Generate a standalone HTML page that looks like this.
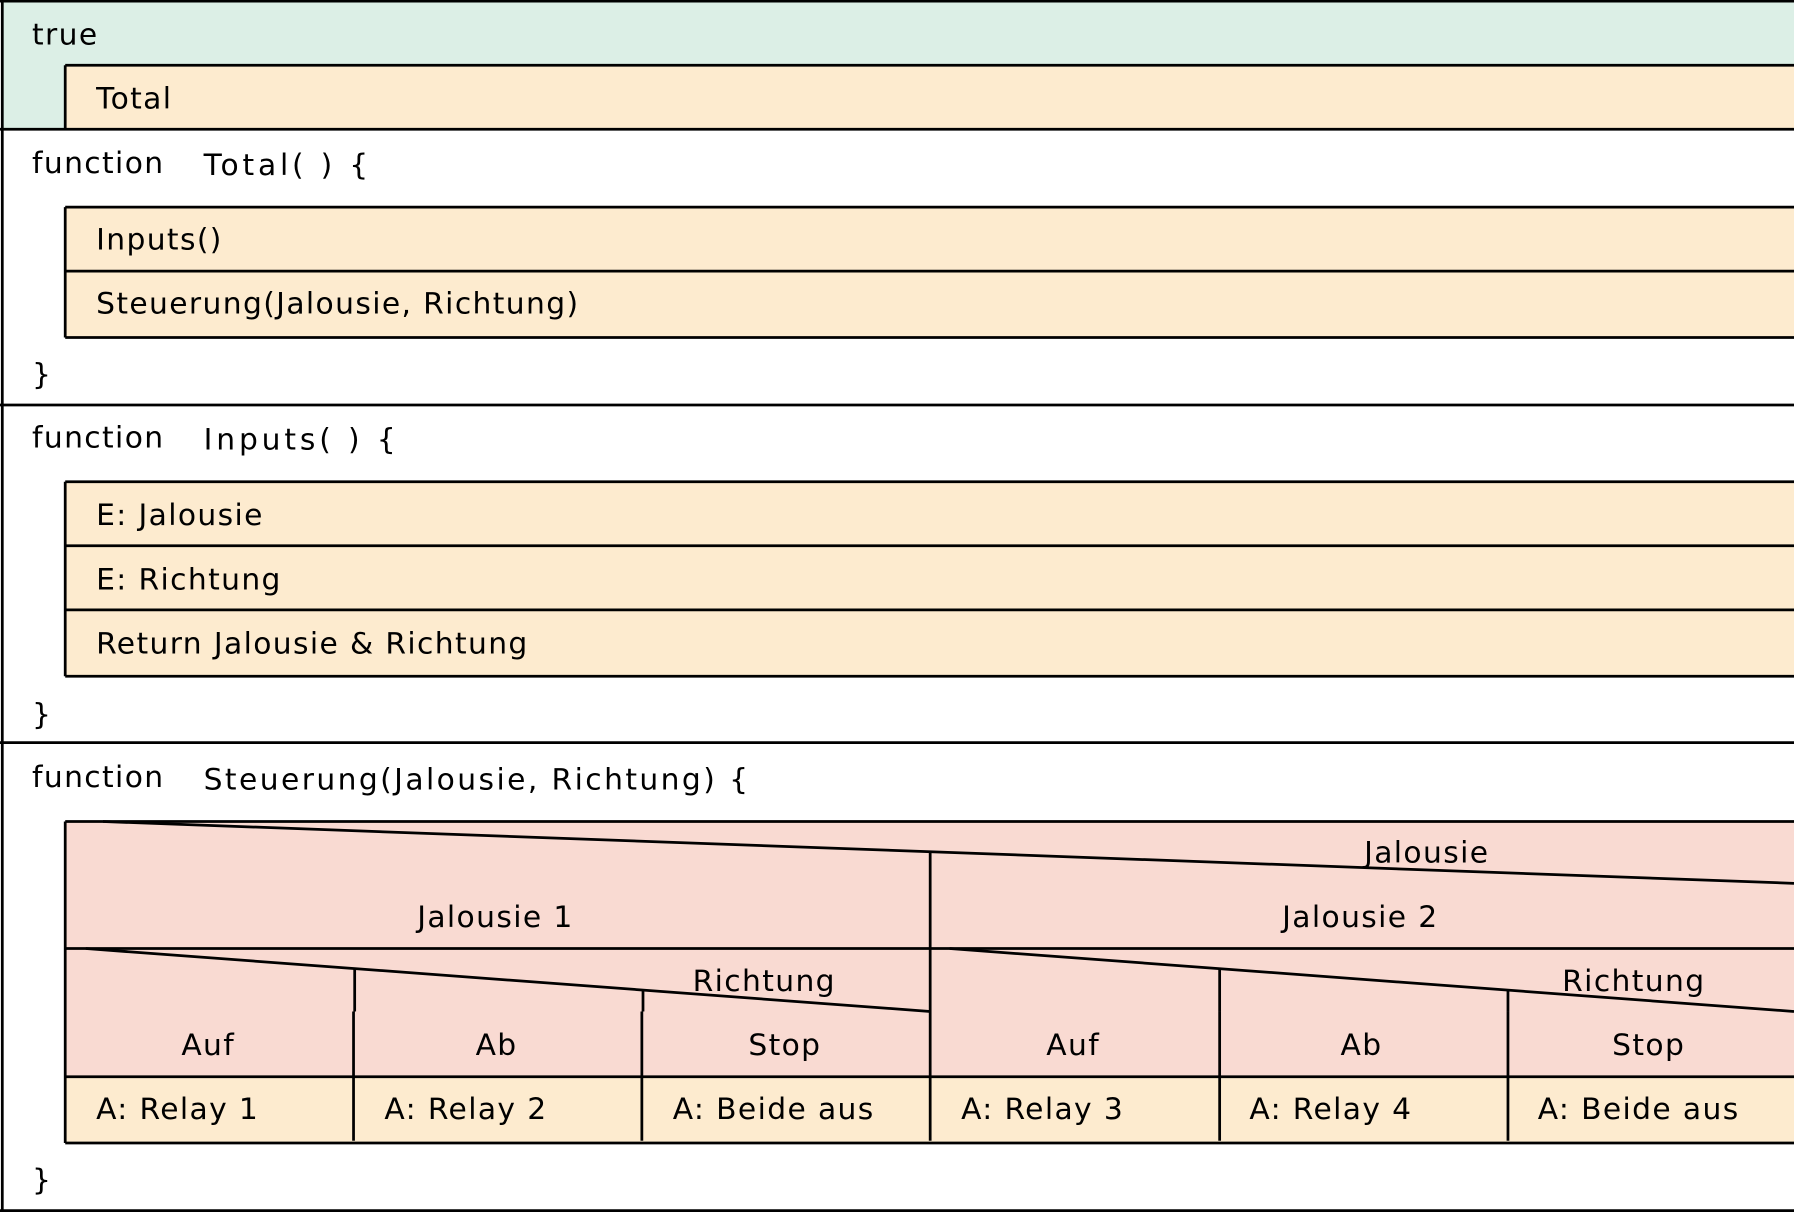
<!DOCTYPE html>
<html><head><meta charset="utf-8"><style>
html,body{margin:0;padding:0;background:#fff;overflow:hidden}
svg{display:block}
text{font-family:"DejaVu Sans","Liberation Sans",sans-serif;font-size:26px;fill:#000;letter-spacing:1.2px}
</style></head><body>
<svg width="1794" height="1214" viewBox="0 0 1568 1061" preserveAspectRatio="none" xmlns="http://www.w3.org/2000/svg">
<rect x="0" y="0" width="1568" height="1061" fill="#fff"/>
<rect x="2" y="1" width="1570" height="112" fill="#dcefe6"/>
<rect x="57" y="57" width="1515" height="55" fill="#fdebcf"/>
<rect x="57" y="181" width="1515" height="114" fill="#fdebcf"/>
<rect x="57" y="421" width="1515" height="170" fill="#fdebcf"/>
<rect x="57" y="718" width="1515" height="223" fill="#f9dad2"/>
<rect x="57" y="941" width="1515" height="57" fill="#fdebcf"/>

<g stroke="#000" stroke-width="2.4" fill="none">
<line x1="0" y1="1" x2="1568" y2="1"/>
<line x1="2" y1="0" x2="2" y2="1059"/>
<line x1="0" y1="1058" x2="1568" y2="1058"/>
<line x1="0" y1="113" x2="1568" y2="113"/>
<line x1="0" y1="354" x2="1568" y2="354"/>
<line x1="0" y1="649" x2="1568" y2="649"/>
<line x1="57" y1="57" x2="1568" y2="57"/>
<line x1="57" y1="57" x2="57" y2="113"/>
<line x1="57" y1="181" x2="1568" y2="181"/>
<line x1="57" y1="237" x2="1568" y2="237"/>
<line x1="57" y1="295" x2="1568" y2="295"/>
<line x1="57" y1="181" x2="57" y2="295"/>
<line x1="57" y1="421" x2="1568" y2="421"/>
<line x1="57" y1="477" x2="1568" y2="477"/>
<line x1="57" y1="533" x2="1568" y2="533"/>
<line x1="57" y1="591" x2="1568" y2="591"/>
<line x1="57" y1="421" x2="57" y2="591"/>
<line x1="57" y1="718" x2="1568" y2="718"/>
<line x1="57" y1="718" x2="57" y2="999"/>
<line x1="90" y1="718" x2="1568" y2="772"/>
<line x1="813" y1="745" x2="813" y2="997"/>
<line x1="57" y1="829" x2="1568" y2="829"/>
<line x1="75" y1="829" x2="813" y2="884"/>
<line x1="830" y1="829" x2="1568" y2="884"/>
<line x1="310" y1="847" x2="310" y2="884"/>
<line x1="562" y1="866" x2="562" y2="884"/>
<line x1="1066" y1="847" x2="1066" y2="884"/>
<line x1="1318" y1="866" x2="1318" y2="884"/>
<line x1="57" y1="941" x2="1568" y2="941"/>
<line x1="309" y1="884" x2="309" y2="997"/>
<line x1="561" y1="884" x2="561" y2="997"/>
<line x1="1066" y1="884" x2="1066" y2="997"/>
<line x1="1318" y1="884" x2="1318" y2="997"/>
<line x1="57" y1="999" x2="1568" y2="999"/>
</g>

<text x="28" y="39">true</text>
<text x="84" y="95">Total</text>
<text x="28" y="151">function</text>
<text x="178" y="153" textLength="145" lengthAdjust="spacing">Total( ) {</text>
<text x="84" y="218">Inputs()</text>
<text x="84" y="274">Steuerung(Jalousie, Richtung)</text>
<text x="28" y="336">}</text>
<text x="28" y="391">function</text>
<text x="178" y="393" textLength="169" lengthAdjust="spacing">Inputs( ) {</text>
<text x="84" y="459">E: Jalousie</text>
<text x="84" y="515">E: Richtung</text>
<text x="84" y="571">Return Jalousie &amp; Richtung</text>
<text x="28" y="633">}</text>
<text x="28" y="688">function</text>
<text x="178" y="690" textLength="477" lengthAdjust="spacing">Steuerung(Jalousie,  Richtung) {</text>
<g text-anchor="middle">
<text x="1247" y="754">Jalousie</text>
<text x="433" y="810">Jalousie 1</text>
<text x="1189" y="810">Jalousie 2</text>
<text x="668" y="866">Richtung</text>
<text x="1428" y="866">Richtung</text>
<text x="182" y="922">Auf</text>
<text x="434" y="922">Ab</text>
<text x="686" y="922">Stop</text>
<text x="938" y="922">Auf</text>
<text x="1190" y="922">Ab</text>
<text x="1441" y="922">Stop</text>
</g>
<text x="84" y="978">A: Relay 1</text>
<text x="336" y="978">A: Relay 2</text>
<text x="588" y="978">A: Beide aus</text>
<text x="840" y="978">A: Relay 3</text>
<text x="1092" y="978">A: Relay 4</text>
<text x="1344" y="978">A: Beide aus</text>
<text x="28" y="1040">}</text>
</svg>
</body></html>
